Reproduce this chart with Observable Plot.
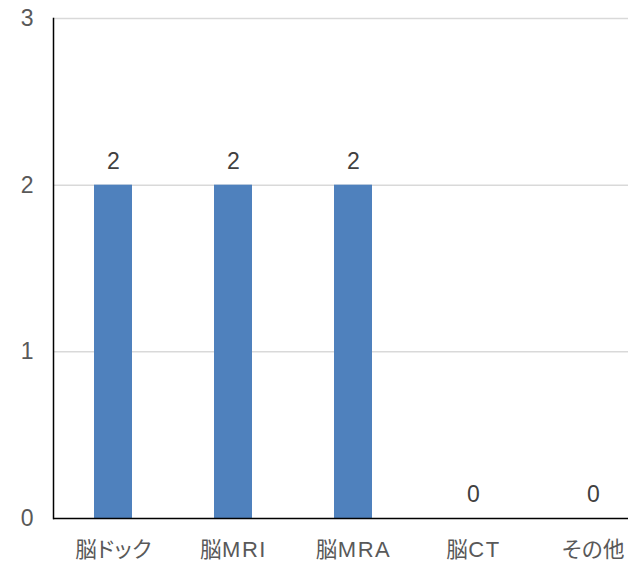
<!DOCTYPE html>
<html>
<head>
<meta charset="utf-8">
<script src="https://cdn.jsdelivr.net/npm/d3@7"></script>
<script src="https://cdn.jsdelivr.net/npm/@observablehq/plot@0.6"></script>
<style>
  html, body { margin: 0; padding: 0; background: #fff; }
  #chart svg { display: block; }
  #chart svg text { font-feature-settings: "palt"; }
</style>
</head>
<body>
<div id="chart"></div>
<script>
const categories = ["脳ドック", "脳MRI", "脳MRA", "脳CT", "その他"];
const values = [2, 2, 2, 0, 0];
const yTicks = [0, 1, 2, 3];

const data = categories.map((c, i) => ({category: c, value: values[i]}));
const font = "'Liberation Sans', Arial, 'Noto Sans CJK JP', sans-serif";

const chart = Plot.plot({
  width: 628,
  height: 562,
  marginTop: 18,
  marginBottom: 44,
  marginLeft: 53,
  marginRight: 0,
  style: {fontFamily: font, fontSize: "22px", color: "#595959", background: "#fff"},
  x: {domain: categories, range: [53, 653], paddingInner: 0.683, paddingOuter: 0.3415, label: null},
  y: {domain: [0, 3], ticks: yTicks, label: null},
  marks: [
    Plot.ruleY(yTicks.filter(t => t > 0), {stroke: "#d9d9d9", strokeWidth: 1.5}),
    Plot.barY(data, {x: "category", y: "value", fill: "#4f81bd"}),
    Plot.text(data, {x: "category", y: "value", text: d => String(d.value), dy: -24, fill: "#404040", fontSize: 23}),
    Plot.ruleY([0], {stroke: "#000", strokeWidth: 1.5}),
    Plot.frame({anchor: "left", stroke: "#000", strokeWidth: 1.5}),
    Plot.axisY({ticks: yTicks, tickSize: 0, tickPadding: 20, fontSize: 23, fill: "#595959", tickFormat: d => String(d)}),
    Plot.axisX({tickSize: 0, tickPadding: 23, fontSize: 22, fill: "#595959"})
  ]
});

// Style mixed-script x labels: CJK runs with proportional kana, Latin runs slightly spaced
const cjk = /[\u3000-\u9fff\uff00-\uffef]+|[^\u3000-\u9fff\uff00-\uffef]+/g;
chart.querySelectorAll('g[aria-label="x-axis tick label"] text').forEach(t => {
  const s = t.textContent;
  t.textContent = "";
  for (const run of s.match(cjk) || []) {
    const span = document.createElementNS("http://www.w3.org/2000/svg", "tspan");
    span.textContent = run;
    if (/[\u3000-\u9fff\uff00-\uffef]/.test(run)) {
      span.setAttribute("font-size", "21.5");
      span.setAttribute("font-family", "'Noto Sans CJK JP', sans-serif");
      span.setAttribute("letter-spacing", "0.5");
    } else {
      span.setAttribute("letter-spacing", "1.5");
    }
    t.appendChild(span);
  }
});
document.getElementById("chart").appendChild(chart);
</script>
</body>
</html>
